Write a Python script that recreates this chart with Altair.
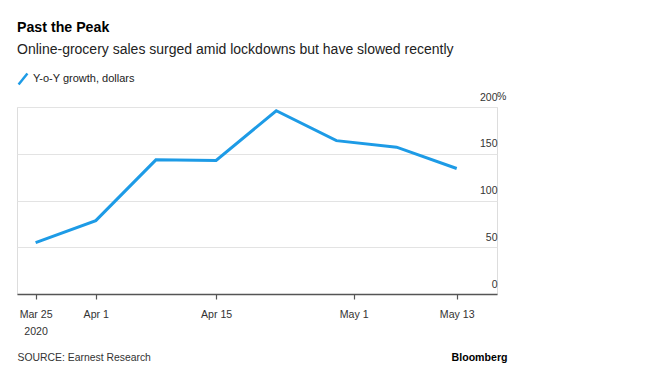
import altair as alt
import pandas as pd

dates = ["2020-03-25", "2020-04-01", "2020-04-08", "2020-04-15",
         "2020-04-22", "2020-04-29", "2020-05-06", "2020-05-13"]
growth = [55.0, 78.5, 143.5, 142.8, 196.0, 164.0, 157.0, 134.2]
series_name = "Y-o-Y growth, dollars"
y_ticks = [0, 50, 100, 150, 200]

FONT = "'Liberation Sans', Arial, sans-serif"
BLUE = "#1d9be6"

df = pd.DataFrame({"date": dates, "growth": growth, "series": [series_name] * len(dates)})
pct = pd.DataFrame({"v": [200], "t": ["%"]})

x_ticks = [alt.DateTime(year=2020, month=3, date=25, utc=True),
           alt.DateTime(year=2020, month=4, date=1, utc=True),
           alt.DateTime(year=2020, month=4, date=15, utc=True),
           alt.DateTime(year=2020, month=5, date=1, utc=True),
           alt.DateTime(year=2020, month=5, date=13, utc=True)]

x_scale = alt.Scale(type="utc", domain=[
    alt.DateTime(year=2020, month=3, date=22, hours=20, utc=True),
    alt.DateTime(year=2020, month=5, date=17, hours=16, minutes=30, utc=True)])
y_scale = alt.Scale(domain=[0, 200], nice=False)

line = alt.Chart(df).mark_line(strokeWidth=3, strokeJoin="miter").encode(
    x=alt.X("date:T", scale=x_scale, axis=alt.Axis(
        values=x_ticks,
        labelExpr="utcdate(datum.value) == 25 ? ['Mar 25', '2020'] : utcFormat(datum.value, '%b %-d')",
        grid=False, domain=True, domainColor="#555", domainWidth=1.5,
        ticks=True, tickColor="#555", tickSize=5, tickWidth=1.2,
        labelFont=FONT, labelFontSize=10.6, labelColor="#333",
        labelPadding=18.5, labelBaseline="alphabetic", labelLineHeight=16.7,
        labelFlush=False, labelOverlap=False, labelBound=False,
        title="SOURCE: Earnest Research", titleFont=FONT, titleFontSize=10.4,
        titleFontWeight="normal", titleColor="#333", titleAnchor="start",
        titleAlign="left", titleBaseline="alphabetic", titleX=0, titleY=66.7)),
    y=alt.Y("growth:Q", scale=y_scale, axis=alt.Axis(
        orient="right", values=y_ticks, grid=True, gridColor="#e3e3e3", gridWidth=1,
        domain=False, ticks=False, tickSize=0, labelPadding=0,
        labelAlign="right", labelBaseline="alphabetic", labelOffset=-7,
        labelFont=FONT, labelFontSize=10.5, labelColor="#333",
        labelFlush=False, labelOverlap=False, labelBound=False,
        title="Bloomberg", titleFont=FONT, titleFontSize=10.6, titleFontWeight="bold",
        titleColor="#000", titleAngle=0, titleAlign="right", titleBaseline="alphabetic",
        titleX=10, titleY=253.4)),
    color=alt.Color("series:N", scale=alt.Scale(range=[BLUE]), legend=alt.Legend(
        title=None, orient="none", legendX=-1, legendY=-35, padding=0,
        symbolType="M-0.8,1L0.8,-1", symbolSize=121, symbolStrokeWidth=2.5,
        labelFont=FONT, labelFontSize=11, labelColor="#222", labelOffset=3)),
)

pct_text = alt.Chart(pct).mark_text(
    align="left", baseline="alphabetic", dy=-7, font=FONT, fontSize=10.5, color="#333"
).encode(
    x=alt.value(480),
    y=alt.Y("v:Q", scale=y_scale),
    text="t:N",
)

chart = alt.layer(line, pct_text).properties(
    width=480, height=187,
    padding={"left": 9, "top": 99, "right": 156, "bottom": 74},
    autosize=alt.AutoSizeParams(type="none"),
    title=alt.TitleParams(
        "Past the Peak", subtitle="Online-grocery sales surged amid lockdowns but have slowed recently",
        anchor="start", frame="group", font=FONT, fontSize=14.2, fontWeight="bold", color="#000",
        subtitleFont=FONT, subtitleFontSize=14, subtitleColor="#222",
        offset=15, subtitlePadding=7.5),
).configure_view(stroke=None).configure(background="white")

chart.save("out.html", embed_options={"renderer": "svg", "actions": False})
